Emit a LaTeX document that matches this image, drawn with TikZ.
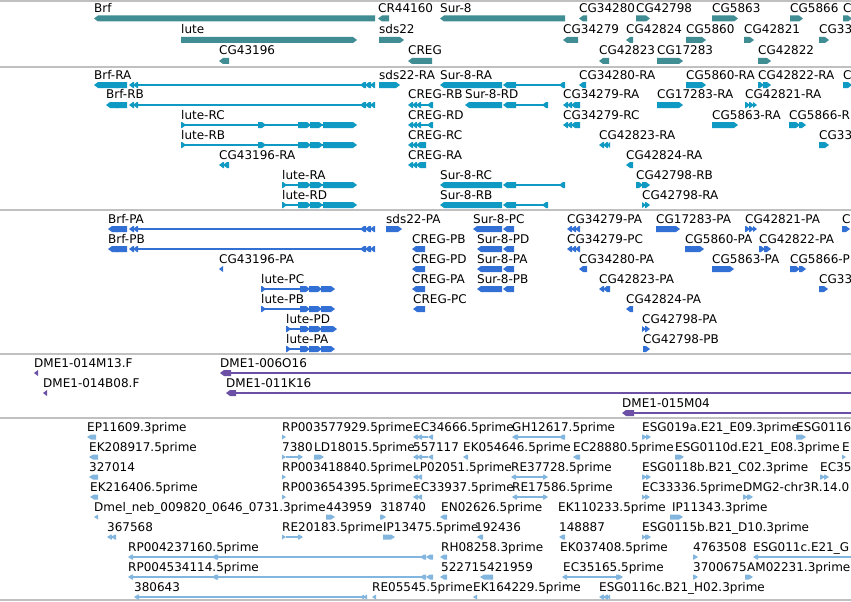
\documentclass[tikz,border=0pt]{standalone}
\usepackage{fontspec}
\setmainfont{DejaVu Sans}

\definecolor{genec}{RGB}{64,142,148}
\definecolor{trc}{RGB}{14,154,194}
\definecolor{protc}{RGB}{51,112,214}
\definecolor{clonec}{RGB}{108,80,166}
\definecolor{estc}{RGB}{130,182,222}
\definecolor{sepc}{RGB}{192,192,192}

\tikzset{lab/.style={anchor=base west, inner sep=0pt, text=black, font=\fontsize{12}{14}\selectfont}}

\def\hh{3}
% Pfeil nach rechts: x1, x2, y
\newcommand{\fwd}[3]{%
  \pgfmathsetmacro\ah{min(4,(#2)-(#1))}%
  \fill (#1,#3-\hh) -- (#2-\ah,#3-\hh) -- (#2,#3) -- (#2-\ah,#3+\hh) -- (#1,#3+\hh) -- cycle;}
% Pfeil nach links: x1, x2, y
\newcommand{\rev}[3]{%
  \pgfmathsetmacro\ah{min(4,(#2)-(#1))}%
  \fill (#1,#3) -- (#1+\ah,#3-\hh) -- (#2,#3-\hh) -- (#2,#3+\hh) -- (#1+\ah,#3+\hh) -- cycle;}
\newcommand{\intr}[3]{\draw[line width=1.5pt] (#1,#3) -- (#2,#3);}
\newcommand{\lab}[3]{\node[lab] at (#1,#2-6) {#3};}
% Modelle
\newcommand{\brf}[2]{\rev{#1}{118}{#2}\rev{112}{127}{#2}\rev{129}{134}{#2}\rev{133}{138}{#2}%
  \intr{138}{361}{#2}\rev{360}{366}{#2}\rev{365}{371}{#2}\rev{370}{375}{#2}}
\newcommand{\luteR}[2]{\intr{#1}{330}{#2}\fwd{#1}{#1+5}{#2}\fwd{298}{311}{#2}\fwd{310}{323}{#2}\fwd{323}{357}{#2}}
\newcommand{\luteP}[3]{\intr{#1}{320}{#2}\fwd{#1}{#1+5}{#2}\fwd{300}{310}{#2}\fwd{309}{322}{#2}\fwd{321}{#3}{#2}}
\newcommand{\surR}[3]{\rev{#1}{502}{#2}\rev{503}{516}{#2}\intr{516}{#3}{#2}\rev{#3-6}{#3}{#2}}
\newcommand{\creg}[2]{\rev{408}{413}{#2}\rev{412}{417}{#2}\rev{416}{421}{#2}\intr{421}{428}{#2}\rev{427}{#1}{#2}}
\newcommand{\tri}[3]{\rev{#1}{#1+5}{#3}\rev{#1+4}{#1+9}{#3}\rev{#1+8}{#2}{#3}}
\newcommand{\trf}[3]{\fwd{#1}{#1+5}{#3}\fwd{#1+4}{#1+9}{#3}\fwd{#1+8}{#2}{#3}}

\begin{document}
\begin{tikzpicture}[x=1pt, y=-1pt]
	\useasboundingbox (0,0) rectangle (851,602);
	\fill[white] (0,0) rectangle (851,602);
	\clip (0,0) rectangle (851,602);
	
	% Trennlinien
	\foreach \y in {1,67,210,354,418,600}
		\draw[sepc, line width=1.5pt] (0,\y) -- (851,\y);
	
	% Gene
	\begin{scope}[genec]
	\lab{94}{18.5}{Brf} \rev{94}{375}{18.5}
	\lab{378}{18.5}{CR44160} \rev{378}{389}{18.5}
	\lab{440}{18.5}{Sur-8} \rev{440}{565}{18.5}
	\lab{579}{18.5}{CG34280} \rev{579}{587}{18.5}
	\lab{636}{18.5}{CG42798} \fwd{636}{650}{18.5}
	\lab{712}{18.5}{CG5863} \fwd{712}{738}{18.5}
	\lab{790}{18.5}{CG5866} \fwd{790}{803}{18.5}
	\lab{843}{18.5}{C} \fwd{843}{852}{18.5}
	
	\lab{181}{40}{lute} \fwd{181}{357}{40}
	\lab{379}{40}{sds22} \fwd{379}{404}{40}
	\lab{563}{40}{CG34279} \rev{563}{578}{40}
	\lab{626}{40}{CG42824} \rev{626}{633}{40}
	\lab{686}{40}{CG5860} \fwd{686}{706}{40}
	\lab{744}{40}{CG42821} \fwd{744}{754}{40}
	\lab{819}{40}{CG33} \fwd{819}{829}{40}
	
	\lab{219}{61}{CG43196} \rev{219}{229}{61}
	\lab{408}{61}{CREG} \rev{408}{432}{61}
	\lab{599}{61}{CG42823} \rev{599}{609}{61}
	\lab{657}{61}{CG17283} \fwd{657}{683}{61}
	\lab{758}{61}{CG42822} \fwd{758}{771}{61}
	\end{scope}
	
	% Transkripte
	\begin{scope}[trc]
	\lab{94}{85}{Brf-RA} \brf{94}{85}
	\lab{379}{85}{sds22-RA} \fwd{379}{400}{85}
	\lab{440}{85}{Sur-8-RA} \surR{440}{85}{565}
	\lab{579}{85}{CG34280-RA} \rev{579}{586}{85}
	\lab{686}{85}{CG5860-RA} \fwd{686}{706}{85}
	\lab{758}{85}{CG42822-RA} \fwd{758}{764}{85}\fwd{763}{771}{85}
	\lab{843}{85}{C} \fwd{843}{852}{85}
	
	\lab{106}{105}{Brf-RB} \brf{106}{105}
	\lab{408}{105}{CREG-RB} \creg{433}{105}
	\lab{465}{105}{Sur-8-RD} \surR{465}{105}{548}
	\lab{563}{105}{CG34279-RA} \tri{563}{580}{105}
	\lab{657}{105}{CG17283-RA} \fwd{657}{683}{105}
	\lab{745}{105}{CG42821-RA} \trf{745}{757}{105}
	
	\lab{181}{125}{lute-RC} \luteR{181}{125}\fwd{258}{266}{125}
	\lab{408}{125}{CREG-RD} \creg{433}{125}
	\lab{563}{125}{CG34279-RC} \tri{563}{580}{125}
	\lab{712}{125}{CG5863-RA} \fwd{712}{738}{125}
	\lab{789}{125}{CG5866-R} \fwd{789}{800}{125}\fwd{799}{806}{125}
	
	\lab{181}{145}{lute-RB} \luteR{181}{145}\fwd{258}{266}{145}
	\lab{408}{145}{CREG-RC} \tri{408}{426}{145}
	\lab{599}{145}{CG42823-RA} \tri{599}{610}{145}
	\lab{819}{145}{CG33} \fwd{819}{829}{145}
	
	\lab{219}{165}{CG43196-RA} \rev{219}{224}{165}\rev{223}{229}{165}
	\lab{408}{165}{CREG-RA} \tri{408}{426}{165}
	\lab{626}{165}{CG42824-RA} \rev{626}{633}{165}
	
	\lab{282}{185}{lute-RA} \luteR{282}{185}
	\lab{440}{185}{Sur-8-RC} \surR{440}{185}{565}
	\lab{636}{185}{CG42798-RB} \fwd{636}{643}{185}\fwd{642}{650}{185}
	
	\lab{282}{205}{lute-RD} \luteR{282}{205}
	\lab{440}{205}{Sur-8-RB} \surR{440}{205}{548}
	\lab{642}{205}{CG42798-RA} \fwd{642}{646}{205}\fwd{645}{650}{205}
	\end{scope}
	
	% Proteine
	\begin{scope}[protc]
	\lab{108}{229}{Brf-PA} \brf{108}{229}
	\lab{386}{229}{sds22-PA} \fwd{386}{402}{229}
	\lab{473}{229}{Sur-8-PC} \rev{473}{502}{229}\rev{503}{514}{229}
	\lab{567}{229}{CG34279-PA} \tri{567}{580}{229}
	\lab{656}{229}{CG17283-PA} \fwd{656}{680}{229}
	\lab{745}{229}{CG42821-PA} \trf{745}{757}{229}
	\lab{842}{229}{C} \fwd{842}{850}{229}
	
	\lab{108}{249}{Brf-PB} \brf{108}{249}
	\lab{412}{249}{CREG-PB} \rev{412}{425}{249}
	\lab{477}{249}{Sur-8-PD} \rev{477}{502}{249}\rev{503}{514}{249}
	\lab{567}{249}{CG34279-PC} \tri{567}{580}{249}
	\lab{685}{249}{CG5860-PA} \fwd{685}{704}{249}
	\lab{759}{249}{CG42822-PA} \fwd{759}{765}{249}\fwd{764}{771}{249}
	
	\lab{219}{269}{CG43196-PA} \rev{219}{223}{269}
	\lab{412}{269}{CREG-PD} \rev{412}{425}{269}
	\lab{477}{269}{Sur-8-PA} \rev{477}{502}{269}\rev{503}{514}{269}
	\lab{579}{269}{CG34280-PA} \rev{579}{587}{269}
	\lab{712}{269}{CG5863-PA} \fwd{712}{734}{269}
	\lab{790}{269}{CG5866-P} \fwd{790}{800}{269}\fwd{799}{806}{269}
	
	\lab{261}{289}{lute-PC} \luteP{261}{289}{335}
	\lab{412}{289}{CREG-PA} \rev{412}{425}{289}
	\lab{477}{289}{Sur-8-PB} \rev{477}{502}{289}\rev{503}{514}{289}
	\lab{599}{289}{CG42823-PA} \rev{599}{604}{289}\rev{603}{610}{289}
	\lab{819}{289}{CG33} \fwd{819}{828}{289}
	
	\lab{261}{309}{lute-PB} \luteP{261}{309}{335}
	\lab{413}{309}{CREG-PC} \rev{413}{425}{309}
	\lab{626}{309}{CG42824-PA} \rev{626}{633}{309}
	
	\lab{286}{329}{lute-PD} \luteP{286}{329}{337}
	\lab{642}{329}{CG42798-PA} \fwd{642}{646}{329}\fwd{645}{650}{329}
	
	\lab{286}{349}{lute-PA} \luteP{286}{349}{335}
	\lab{643}{349}{CG42798-PB} \fwd{643}{650}{349}
	\end{scope}
	
	% Klone
	\begin{scope}[clonec]
	\lab{34}{373}{DME1-014M13.F} \rev{34}{38}{373}
	\lab{220}{373}{DME1-006O16} \rev{220}{231}{373} \draw[line width=2pt] (231,373) -- (852,373);
	\lab{43}{393}{DME1-014B08.F} \rev{43}{47}{393}
	\lab{226}{393}{DME1-011K16} \rev{226}{236}{393} \draw[line width=2pt] (236,393) -- (852,393);
	\lab{622}{413}{DME1-015M04} \rev{622}{634}{413} \draw[line width=2pt] (634,413) -- (852,413);
	\end{scope}
	
	% ESTs
	\begin{scope}[estc]
	\def\hh{2.5}
	\lab{87}{437}{EP11609.3prime} \rev{87}{96}{437}
	\lab{282}{437}{RP003577929.5prime} \fwd{282}{286}{437}
	\lab{413}{437}{EC34666.5prime} \rev{413}{418}{437}\rev{417}{422}{437}\intr{422}{428}{437}\rev{428}{433}{437}
	\lab{512}{437}{GH12617.5prime} \rev{512}{518}{437}\intr{518}{560}{437}\rev{559}{565}{437}
	\lab{642}{437}{ESG019a.E21\_E09.3prime} \fwd{642}{647}{437}\fwd{646}{651}{437}
	\lab{796}{437}{ESG0116} \fwd{796}{806}{437}
	
	\lab{89}{457}{EK208917.5prime} \rev{89}{98}{457}
	\lab{282}{457}{7380} \fwd{282}{286}{457}\intr{286}{299}{457}\fwd{298}{303}{457}
	\lab{314}{457}{LD18015.5prime} \fwd{314}{324}{457}
	\lab{413}{457}{557117} \rev{413}{418}{457}\rev{417}{422}{457}\intr{422}{428}{457}\rev{428}{433}{457}
	\lab{463}{457}{EK054646.5prime} \rev{463}{468}{457}
	\lab{573}{457}{EC28880.5prime} \rev{573}{580}{457}
	\lab{675}{457}{ESG0110d.E21\_E08.3prime} \fwd{675}{684}{457}
	\lab{842}{457}{E} \fwd{842}{846}{457}
	
	\lab{89}{477}{327014} \rev{89}{98}{477}
	\lab{282}{477}{RP003418840.5prime} \fwd{282}{286}{477}
	\lab{413}{477}{LP02051.5prime} \rev{413}{418}{477}\rev{417}{422}{477}
	\lab{511}{477}{RE37728.5prime} \rev{511}{516}{477}\intr{516}{543}{477}\fwd{543}{548}{477}
	\lab{642}{477}{ESG0118b.B21\_C02.3prime} \fwd{642}{647}{477}\fwd{646}{651}{477}
	\lab{820}{477}{EC35} \fwd{820}{825}{477}\fwd{824}{829}{477}
	
	\lab{90}{497}{EK216406.5prime} \rev{90}{98}{497}
	\lab{282}{497}{RP003654395.5prime} \fwd{282}{286}{497}
	\lab{413}{497}{EC33937.5prime} \rev{413}{418}{497}\rev{417}{422}{497}
	\lab{512}{497}{RE17586.5prime} \rev{512}{517}{497}\intr{517}{543}{497}\fwd{543}{548}{497}
	\lab{642}{497}{EC33336.5prime} \fwd{642}{646}{497}\fwd{645}{650}{497}
	\lab{743}{497}{DMG2-chr3R.14.0} \fwd{743}{748}{497}\fwd{747}{753}{497}
	
	\lab{94}{517}{Dmel\_neb\_009820\_0646\_0731.3prime} \rev{94}{98}{517}
	\lab{326}{517}{443959} \fwd{326}{335}{517}
	\lab{380}{517}{318740} \fwd{380}{386}{517}
	\lab{441}{517}{EN02626.5prime} \rev{440}{447}{517}
	\lab{558}{517}{EK110233.5prime}
	\lab{672}{517}{IP11343.3prime} \fwd{670}{683}{517}
	
	\lab{107}{537}{367568} \rev{107}{112}{537}\rev{111}{116}{537}
	\lab{282}{537}{RE20183.5prime} \fwd{282}{286}{537}\intr{286}{299}{537}\fwd{298}{303}{537}
	\lab{383}{537}{IP13475.5prime} \fwd{383}{395}{537}
	\lab{475}{537}{192436} \rev{477}{483}{537}
	\lab{559}{537}{148887} \rev{559}{565}{537}
	\lab{642}{537}{ESG0115b.B21\_D10.3prime} \fwd{642}{646}{537}\fwd{645}{651}{537}
	
	\lab{128}{557}{RP004237160.5prime} \rev{128}{133}{557}\intr{133}{421}{557}\rev{212}{218}{557}\rev{420}{426}{557}\rev{426}{433}{557}
	\lab{441}{557}{RH08258.3prime} \rev{440}{447}{557}
	\lab{560}{557}{EK037408.5prime}
	\lab{693}{557}{4763508} \fwd{693}{698}{557}
	\lab{753}{557}{ESG011c.E21\_G} \rev{753}{758}{557}\intr{758}{852}{557}
	
	\lab{128}{577}{RP004534114.5prime} \rev{128}{133}{577}\intr{133}{421}{577}\rev{212}{218}{577}\rev{420}{426}{577}\rev{426}{433}{577}
	\lab{441}{577}{522715} \rev{440}{447}{577}
	\lab{487}{577}{421959} \rev{480}{493}{577}
	\lab{563}{577}{EC35165.5prime} \rev{562}{567}{577}\intr{567}{617}{577}\fwd{616}{623}{577}
	\lab{693}{577}{3700675} \fwd{693}{698}{577}
	\lab{747}{577}{AM02231.3prime} \fwd{745}{753}{577}
	
	\lab{134}{597}{380643} \rev{134}{139}{597}\intr{139}{361}{597}\rev{360}{364}{597}\rev{363}{367}{597}
	\lab{372}{597}{RE05545.5prime} \rev{372}{376}{597}
	\lab{473}{597}{EK164229.5prime} \rev{473}{477}{597}
	\lab{599}{597}{ESG0116c.B21\_H02.3prime} \tri{599}{610}{597}
	\end{scope}
\end{tikzpicture}
\end{document}
